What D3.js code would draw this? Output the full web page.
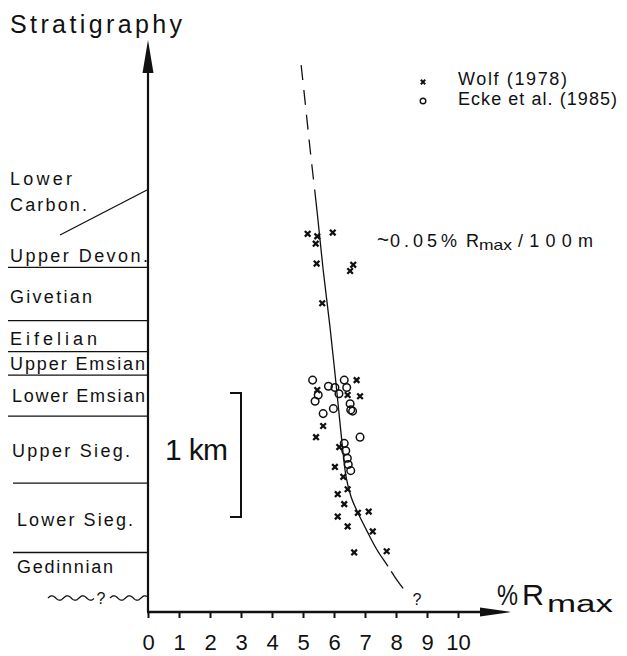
<!DOCTYPE html>
<html>
<head>
<meta charset="utf-8">
<script src="https://cdn.jsdelivr.net/npm/d3@7"></script>
<style>
  body { margin: 0; background: #fff; }
  svg { display: block; }
  text { font-family: "Liberation Sans", Arial, sans-serif; fill: #111; }
</style>
</head>
<body>
<script>
// Vitrinite reflectance (% Rmax) against stratigraphic height (km above the base of the column)

// x-axis ticks
const rmaxTicks = [0, 1, 2, 3, 4, 5, 6, 7, 8, 9, 10];

// Wolf (1978): [Rmax %, height km]
const wolfData = [
  [5.15, 3.05], [5.46, 3.03], [5.41, 2.97], [5.96, 3.06], [5.44, 2.81], [6.52, 2.75],
  [6.62, 2.80], [5.62, 2.49], [6.73, 1.87], [5.46, 1.79], [6.44, 1.75], [6.84, 1.74],
  [5.65, 1.50], [5.42, 1.41], [6.17, 1.33], [6.03, 1.17], [6.30, 1.09], [6.44, 0.99],
  [6.12, 0.95], [6.33, 0.87], [6.77, 0.80], [7.12, 0.81], [6.12, 0.77], [6.44, 0.69],
  [7.25, 0.65], [6.65, 0.48], [7.70, 0.49]
];

// Ecke et al. (1985): [Rmax %, height km]
const eckeData = [
  [5.31, 1.87], [5.82, 1.82], [6.03, 1.81], [6.33, 1.87], [6.41, 1.81], [6.16, 1.76],
  [5.49, 1.75], [5.39, 1.70], [6.52, 1.68], [6.54, 1.63], [6.60, 1.62], [5.98, 1.64],
  [5.65, 1.60], [6.84, 1.41], [6.33, 1.36], [6.38, 1.30], [6.43, 1.24], [6.46, 1.19],
  [6.54, 1.14]
];

// Coalification trend (~0.05 % Rmax / 100 m)
const trendCurve = [
  [4.94, 4.41], [5.07, 4.11], [5.23, 3.73], [5.45, 3.24], [5.65, 2.76], [5.87, 2.30],
  [6.07, 1.83], [6.26, 1.36], [6.39, 1.09], [6.55, 0.93], [6.77, 0.80], [7.07, 0.65],
  [7.39, 0.50], [7.71, 0.38], [7.97, 0.28], [8.23, 0.19]
];

// Stratigraphic boundaries (km above base), top to bottom
const stratBoundaries = [2.78, 2.35, 2.10, 1.91, 1.58, 1.04, 0.48];
// Stratigraphic unit names and the height of each label's baseline (km)
const stratNames = ["Upper Devon.", "Givetian", "Eifelian", "Upper Emsian", "Lower Emsian",
                    "Upper Sieg.", "Lower Sieg.", "Gedinnian"];
const stratLabelH = [2.823, 2.492, 2.153, 1.952, 1.694, 1.250, 0.694, 0.315];

// ---- layout ----
const W = 627, H = 656;
const x = d3.scaleLinear().domain([0, 10]).range([148, 458]);
const y = d3.scaleLinear().domain([0, 1]).range([612, 488]);   // 124 px per km

const svg = d3.select("body").append("svg").attr("width", W).attr("height", H);

function txt(g, px, py, s, size, width, adjust) {
  const t = g.append("text").attr("x", px).attr("y", py)
    .attr("font-size", size).text(s);
  if (width) t.attr("textLength", width).attr("lengthAdjust", adjust || "spacing");
  return t;
}

// ---- stratigraphic column on the left ----
const strat = svg.append("g");
const boundaryLeft = [8, 8, 8, 8, 8, 13, 13];
strat.selectAll("line.bound").data(stratBoundaries).join("line")
  .attr("class", "bound")
  .attr("x1", (d, i) => boundaryLeft[i]).attr("x2", x(0))
  .attr("y1", d => y(d)).attr("y2", d => y(d))
  .attr("stroke", "#111").attr("stroke-width", 1.3);

const labelX = [10, 10, 10, 10, 12, 12, 17, 17];
const labelW = [138, 82, 87, 135, 133, 118, 116, 96];
stratNames.forEach((n, i) => txt(strat, labelX[i], y(stratLabelH[i]), n, 18, labelW[i]));

// Lower Carbon. with leader line
txt(strat, 10, y(3.444), "Lower", 18, 62);
txt(strat, 10, y(3.234), "Carbon.", 18, 77);
strat.append("line")
  .attr("x1", 60).attr("y1", y(3.04)).attr("x2", x(0) - 1).attr("y2", y(3.403))
  .attr("stroke", "#111").attr("stroke-width", 1.3);

// unconformity at the base (wavy line with "?")
const waveY = 598;
function wave(x0, x1) {
  const pts = d3.range(x0, x1 + 0.5, 0.5).map(px => [px, waveY - 2.2 * Math.sin((px - x0) / 15.5 * Math.PI * 2)]);
  return d3.line()(pts);
}
strat.append("path").attr("d", wave(48, 94)).attr("fill", "none").attr("stroke", "#111").attr("stroke-width", 1.3);
strat.append("path").attr("d", wave(110, 147)).attr("fill", "none").attr("stroke", "#111").attr("stroke-width", 1.3);
txt(strat, 101, 604, "?", 16).attr("text-anchor", "middle");

// ---- axes ----
const axes = svg.append("g");
// y axis with arrow
axes.append("line").attr("x1", x(0)).attr("x2", x(0)).attr("y1", y(0)).attr("y2", 66)
  .attr("stroke", "#111").attr("stroke-width", 2.2);
axes.append("path").attr("d", `M${x(0)},40 L${x(0) + 5.5},73 L${x(0) - 5.5},73 Z`).attr("fill", "#111");
txt(axes, 10, 33, "Stratigraphy", 25, 172);

// x axis
const xAxis = d3.axisBottom(x).tickValues(rmaxTicks).tickSize(6).tickPadding(16)
  .tickFormat(d3.format("d"));
const gx = axes.append("g").attr("transform", `translate(0,${y(0)})`).call(xAxis);
gx.select(".domain").remove();
gx.selectAll(".tick line").attr("stroke", "#111").attr("stroke-width", 2);
gx.selectAll(".tick text").attr("font-size", 22).attr("fill", "#111")
  .attr("font-family", "\"Liberation Sans Narrow\", \"Liberation Sans\", sans-serif");
axes.append("line").attr("x1", x(0) - 1).attr("x2", 484).attr("y1", y(0)).attr("y2", y(0))
  .attr("stroke", "#111").attr("stroke-width", 2.4);
axes.append("path").attr("d", `M511,${y(0)} L480,${y(0) - 4.5} L480,${y(0) + 4.5} Z`).attr("fill", "#111");
txt(axes, 497, 605, "%", 29, 21, "spacingAndGlyphs");
txt(axes, 522, 605, "R", 29, 22, "spacingAndGlyphs");
txt(axes, 547, 612, "max", 23, 66, "spacingAndGlyphs");

// ---- 1 km scale bar ----
const bar = svg.append("g");
const barBase = 0.766;
bar.append("path")
  .attr("d", `M230,${y(barBase + 1)} H241 V${y(barBase)} H230`)
  .attr("fill", "none").attr("stroke", "#111").attr("stroke-width", 2);
txt(bar, 165, 460, "1 km", 30, 63);

// ---- trend curve ----
const line = d3.line().x(d => x(d[0])).y(d => y(d[1])).curve(d3.curveCatmullRom.alpha(0.5));
const trend = svg.append("path").datum(trendCurve).attr("d", line)
  .attr("fill", "none").attr("stroke", "#111").attr("stroke-width", 1.3);
(function dashTrend() {
  const node = trend.node();
  const L = node.getTotalLength();
  let lTop = 0, lBot = L;
  for (let l = 0; l <= L; l += 0.5) {
    const p = node.getPointAtLength(l);
    if (!lTop && p.y >= 205) lTop = l;
    if (p.y >= 566) { lBot = l; break; }
  }
  const dash = [];
  let pos = 0;
  while (pos + 25 < lTop) { dash.push(15, 10); pos += 25; }
  dash.push(lBot - pos, 6, Math.max(L - lBot - 6, 1), L);
  trend.attr("stroke-dasharray", dash.join(","));
})();
txt(svg, 417, 605, "?", 16).attr("text-anchor", "middle");

// ---- data points ----
const crossPath = s => `M${-s},${-s}L${s},${s}M${-s},${s}L${s},${-s}`;
const pts = svg.append("g");
pts.selectAll("path.wolf").data(wolfData).join("path")
  .attr("class", "wolf")
  .attr("transform", d => `translate(${x(d[0])},${y(d[1])})`)
  .attr("d", crossPath(2.8))
  .attr("stroke", "#111").attr("stroke-width", 2.3).attr("fill", "none");
pts.selectAll("circle.ecke").data(eckeData).join("circle")
  .attr("class", "ecke")
  .attr("cx", d => x(d[0])).attr("cy", d => y(d[1])).attr("r", 3.8)
  .attr("fill", "none").attr("stroke", "#111").attr("stroke-width", 1.5);

// ---- legend ----
const leg = svg.append("g");
leg.append("path").attr("transform", "translate(423,82)").attr("d", crossPath(2.2))
  .attr("stroke", "#111").attr("stroke-width", 2).attr("fill", "none");
leg.append("circle").attr("cx", 423).attr("cy", 101).attr("r", 2.8)
  .attr("fill", "none").attr("stroke", "#111").attr("stroke-width", 1.4);
txt(leg, 458, 85, "Wolf (1978)", 18, 109);
txt(leg, 458, 105, "Ecke et al. (1985)", 18, 159);

// ---- gradient annotation ----
const ann = svg.append("g");
txt(ann, 377, 247, "~", 22, 12, "spacingAndGlyphs");
txt(ann, 390, 247, "0.05%", 18, 67);
txt(ann, 466, 247, "R", 18, 11);
txt(ann, 479, 250, "max", 15, 33, "spacingAndGlyphs");
txt(ann, 518, 247, "/100m", 18, 75);
</script>
</body>
</html>
